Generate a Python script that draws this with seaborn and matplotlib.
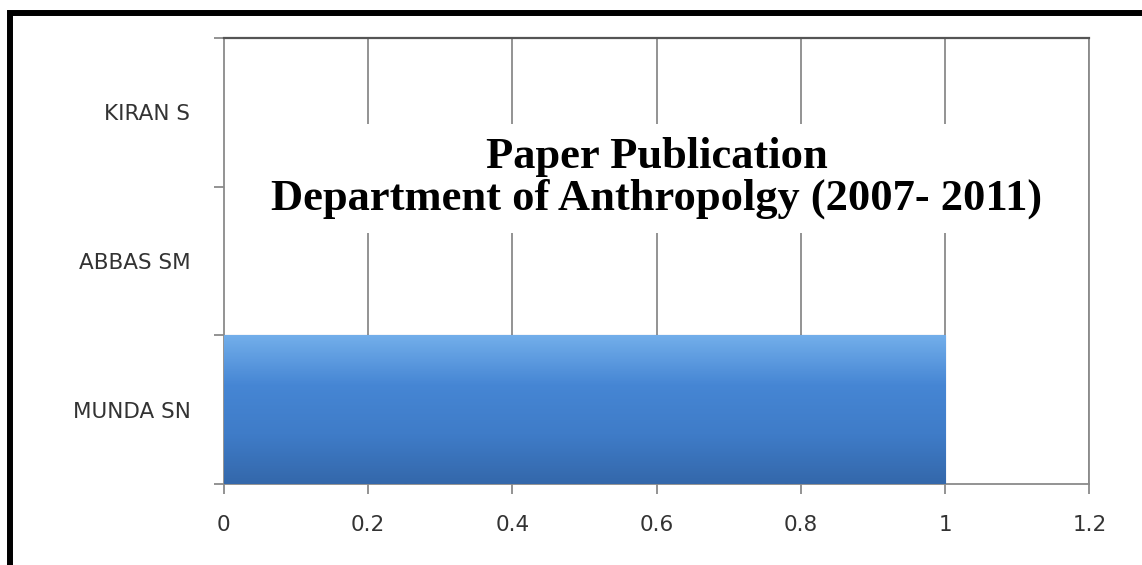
import matplotlib
matplotlib.use('Agg')
import matplotlib.pyplot as plt
import matplotlib.patches as mpatches
from matplotlib.colors import LinearSegmentedColormap
import numpy as np
import pandas as pd
import seaborn as sns

authors = ['KIRAN S', 'ABBAS SM', 'MUNDA SN']
papers = [0, 0, 1]
x_ticks = [0, 0.2, 0.4, 0.6, 0.8, 1.0, 1.2]
x_labels = ['0', '0.2', '0.4', '0.6', '0.8', '1', '1.2']
title_text = 'Paper Publication\nDepartment of Anthropolgy (2007- 2011)'

df = pd.DataFrame({'Author': authors, 'Papers': papers})

sns.set_style('white')
plt.rcParams['font.family'] = ['DejaVu Sans']

fig = plt.figure(figsize=(11.42, 5.65), dpi=100)
ax = fig.add_axes([0.196, 0.143, 0.758, 0.79])

sns.barplot(data=df, x='Papers', y='Author', order=authors, orient='h',
            color='#4080cc', width=1.0, saturation=1, ax=ax, zorder=2)

# gradient fill on the bar, light at the top, darker at the bottom
grad = LinearSegmentedColormap.from_list('bar', ['#72aeea', '#4686d4', '#3f7cc8', '#3468ab'])
for p in ax.patches:
    bx, by = p.get_x(), p.get_y()
    bw, bh = p.get_width(), p.get_height()
    if bw <= 0:
        continue
    im = ax.imshow(np.linspace(0, 1, 100).reshape(-1, 1), cmap=grad, aspect='auto',
                   extent=[bx, bx + bw, by + bh, by], origin='upper', zorder=3)
    im.set_clip_path(p)
    p.set_edgecolor('#2d5a94')
    p.set_linewidth(0.8)

ax.set_xlim(0, 1.2)
ax.set_ylim(2.5, -0.5)
ax.set_xticks(x_ticks)
ax.set_xticklabels(x_labels)
ax.set_yticks([-0.5, 0.5, 1.5, 2.5])
ax.set_yticklabels([])
ax.set_yticks(range(len(authors)), minor=True)
ax.set_yticklabels(authors, minor=True)
ax.set_xlabel('')
ax.set_ylabel('')

ax.xaxis.grid(True, color='#8a8a8a', linewidth=1.3, zorder=0)
ax.yaxis.grid(False)
ax.set_axisbelow(True)

for side in ['left', 'bottom', 'right']:
    ax.spines[side].set_color('#8a8a8a')
    ax.spines[side].set_linewidth(1.3)
ax.spines['top'].set_color('#555555')
ax.spines['top'].set_linewidth(1.6)

ax.tick_params(axis='x', which='major', length=7, width=1.3, color='#8a8a8a',
               direction='out', pad=15, labelsize=15.5, labelcolor='#333333', bottom=True)
ax.tick_params(axis='y', which='major', length=7, width=1.3, color='#8a8a8a',
               direction='out', left=True)
ax.tick_params(axis='y', which='minor', length=0, pad=24, labelsize=15.5,
               labelcolor='#333333', left=True)

ax.text(0.5, 0.686, title_text, transform=ax.transAxes, ha='center', va='center',
        fontfamily='Liberation Serif', fontweight='bold', fontsize=32, color='black',
        linespacing=1.05, zorder=5,
        bbox=dict(facecolor='white', edgecolor='none', pad=10))

# thick black frame, cut off at right and bottom
frame = mpatches.Rectangle((10 / 1142, -0.1), 1.2, (565 - 12.5) / 565 + 0.1,
                           transform=fig.transFigure, fill=False,
                           edgecolor='black', linewidth=4.3)
fig.patches.append(frame)

plt.savefig('out.png', dpi=100)
